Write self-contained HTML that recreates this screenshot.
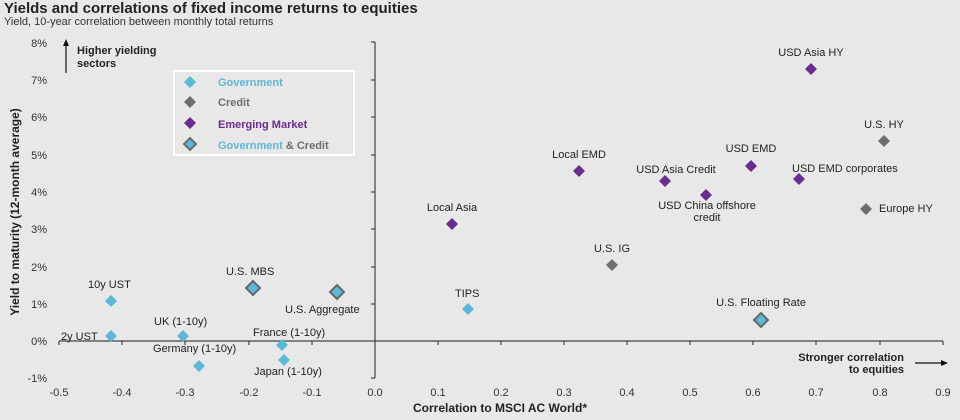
<!DOCTYPE html>
<html><head><meta charset="utf-8"><style>
html,body{margin:0;padding:0;background:#e8e8e8;}
svg{display:block;font-family:"Liberation Sans",Arial,sans-serif;}
</style></head><body>
<svg width="960" height="420" viewBox="0 0 960 420" xmlns="http://www.w3.org/2000/svg">
<rect width="960" height="420" fill="#e8e8e8"/>
<text x="4" y="13" font-size="15" font-weight="bold" fill="#222">Yields and correlations of fixed income returns to equities</text>
<text x="4" y="25" font-size="11" fill="#333">Yield, 10-year correlation between monthly total returns</text>
<g stroke="#444" stroke-width="1.2" fill="none">
<line x1="59" y1="341" x2="943" y2="341"/>
<line x1="375" y1="42" x2="375" y2="378"/>
<line x1="371" y1="42" x2="375" y2="42"/><line x1="371" y1="80" x2="375" y2="80"/><line x1="371" y1="117" x2="375" y2="117"/><line x1="371" y1="155" x2="375" y2="155"/><line x1="371" y1="192" x2="375" y2="192"/><line x1="371" y1="229" x2="375" y2="229"/><line x1="371" y1="267" x2="375" y2="267"/><line x1="371" y1="304" x2="375" y2="304"/><line x1="371" y1="378" x2="375" y2="378"/>
<line x1="59" y1="341" x2="59" y2="345"/><line x1="122" y1="341" x2="122" y2="345"/><line x1="185" y1="341" x2="185" y2="345"/><line x1="249" y1="341" x2="249" y2="345"/><line x1="312" y1="341" x2="312" y2="345"/><line x1="438" y1="341" x2="438" y2="345"/><line x1="501" y1="341" x2="501" y2="345"/><line x1="564" y1="341" x2="564" y2="345"/><line x1="627" y1="341" x2="627" y2="345"/><line x1="690" y1="341" x2="690" y2="345"/><line x1="753" y1="341" x2="753" y2="345"/><line x1="816" y1="341" x2="816" y2="345"/><line x1="880" y1="341" x2="880" y2="345"/><line x1="943" y1="341" x2="943" y2="345"/>
</g>
<g font-size="11" fill="#333" text-anchor="end">
<text x="47" y="47">8%</text><text x="47" y="84">7%</text><text x="47" y="121">6%</text><text x="47" y="159">5%</text><text x="47" y="196">4%</text><text x="47" y="233">3%</text><text x="47" y="271">2%</text><text x="47" y="308">1%</text><text x="47" y="345">0%</text><text x="47" y="382">-1%</text>
</g>
<g font-size="11" fill="#333" text-anchor="middle">
<text x="59" y="396">-0.5</text><text x="122" y="396">-0.4</text><text x="185" y="396">-0.3</text><text x="249" y="396">-0.2</text><text x="312" y="396">-0.1</text><text x="375" y="396">0.0</text><text x="438" y="396">0.1</text><text x="501" y="396">0.2</text><text x="564" y="396">0.3</text><text x="627" y="396">0.4</text><text x="690" y="396">0.5</text><text x="753" y="396">0.6</text><text x="816" y="396">0.7</text><text x="880" y="396">0.8</text><text x="943" y="396">0.9</text>
</g>
<text x="500" y="412" font-size="12" font-weight="bold" fill="#222" text-anchor="middle">Correlation to MSCI AC World*</text>
<text transform="translate(19,212) rotate(-90)" font-size="12" font-weight="bold" fill="#222" text-anchor="middle">Yield to maturity (12-month average)</text>
<line x1="66" y1="73" x2="66" y2="45" stroke="#111" stroke-width="1.2"/>
<polygon points="66,39 63,46 69,46" fill="#111"/>
<text x="77" y="54" font-size="11" font-weight="bold" fill="#222">Higher yielding</text>
<text x="77" y="67" font-size="11" font-weight="bold" fill="#222">sectors</text>
<text x="904" y="361" font-size="11" font-weight="bold" fill="#222" text-anchor="end">Stronger correlation</text>
<text x="904" y="373" font-size="11" font-weight="bold" fill="#222" text-anchor="end">to equities</text>
<line x1="915" y1="363" x2="942" y2="363" stroke="#111" stroke-width="1.2"/>
<polygon points="948,363 941,360 941,366" fill="#111"/>
<rect x="174" y="71" width="180" height="84" fill="#e8e8e8" stroke="#fff" stroke-width="2"/>
<g>
<polygon points="190,76 196,82 190,88 184,82" fill="#5bb8d8"/>
<polygon points="190,96 196,102 190,108 184,102" fill="#6e6e6e"/>
<polygon points="190,117 196,123 190,129 184,123" fill="#6a2c8e"/>
<polygon points="190,138 196,144 190,150 184,144" fill="#5bb8d8" stroke="#6e6e6e" stroke-width="2"/>
</g>
<g font-size="11" font-weight="bold">
<text x="218" y="86" fill="#5bb8d8">Government</text>
<text x="218" y="106" fill="#6e6e6e">Credit</text>
<text x="218" y="128" fill="#6a2c8e">Emerging Market</text>
<text x="218" y="149"><tspan fill="#5bb8d8">Government</tspan><tspan fill="#6e6e6e"> &amp; Credit</tspan></text>
</g>
<g fill="#5bb8d8">
<polygon points="111,295 117,301 111,307 105,301"/>
<polygon points="111,330 117,336 111,342 105,336"/>
<polygon points="183,330 189,336 183,342 177,336"/>
<polygon points="199,360 205,366 199,372 193,366"/>
<polygon points="282,339 288,345 282,351 276,345"/>
<polygon points="284,354 290,360 284,366 278,360"/>
<polygon points="468,303 474,309 468,315 462,309"/>
</g>
<g fill="#5bb8d8" stroke="#666" stroke-width="2">
<polygon points="253,281 260,288 253,295 246,288"/>
<polygon points="337,285 344,292 337,299 330,292"/>
<polygon points="761,313 768,320 761,327 754,320"/>
</g>
<g fill="#6e6e6e">
<polygon points="612,259 618,265 612,271 606,265"/>
<polygon points="884,135 890,141 884,147 878,141"/>
<polygon points="866,203 872,209 866,215 860,209"/>
</g>
<g fill="#6a2c8e">
<polygon points="452,218 458,224 452,230 446,224"/>
<polygon points="579,165 585,171 579,177 573,171"/>
<polygon points="665,175 671,181 665,187 659,181"/>
<polygon points="706,189 712,195 706,201 700,195"/>
<polygon points="751,160 757,166 751,172 745,166"/>
<polygon points="799,173 805,179 799,185 793,179"/>
<polygon points="811,63 817,69 811,75 805,69"/>
</g>
<g font-size="11" fill="#222">
<text x="88" y="288">10y UST</text>
<text x="61" y="340">2y UST</text>
<text x="154" y="325">UK (1-10y)</text>
<text x="153" y="352">Germany (1-10y)</text>
<text x="253" y="336">France (1-10y)</text>
<text x="254" y="375">Japan (1-10y)</text>
<text x="226" y="275">U.S. MBS</text>
<text x="285" y="313">U.S. Aggregate</text>
<text x="455" y="297">TIPS</text>
<text x="761" y="306" text-anchor="middle">U.S. Floating Rate</text>
<text x="612" y="252" text-anchor="middle">U.S. IG</text>
<text x="452" y="211" text-anchor="middle">Local Asia</text>
<text x="579" y="158" text-anchor="middle">Local EMD</text>
<text x="676" y="173" text-anchor="middle">USD Asia Credit</text>
<text x="707" y="209" text-anchor="middle">USD China offshore</text>
<text x="707" y="221" text-anchor="middle">credit</text>
<text x="751" y="152" text-anchor="middle">USD EMD</text>
<text x="792" y="172">USD EMD corporates</text>
<text x="811" y="56" text-anchor="middle">USD Asia HY</text>
<text x="884" y="128" text-anchor="middle">U.S. HY</text>
<text x="879" y="212">Europe HY</text>
</g>
</svg>
</body></html>
